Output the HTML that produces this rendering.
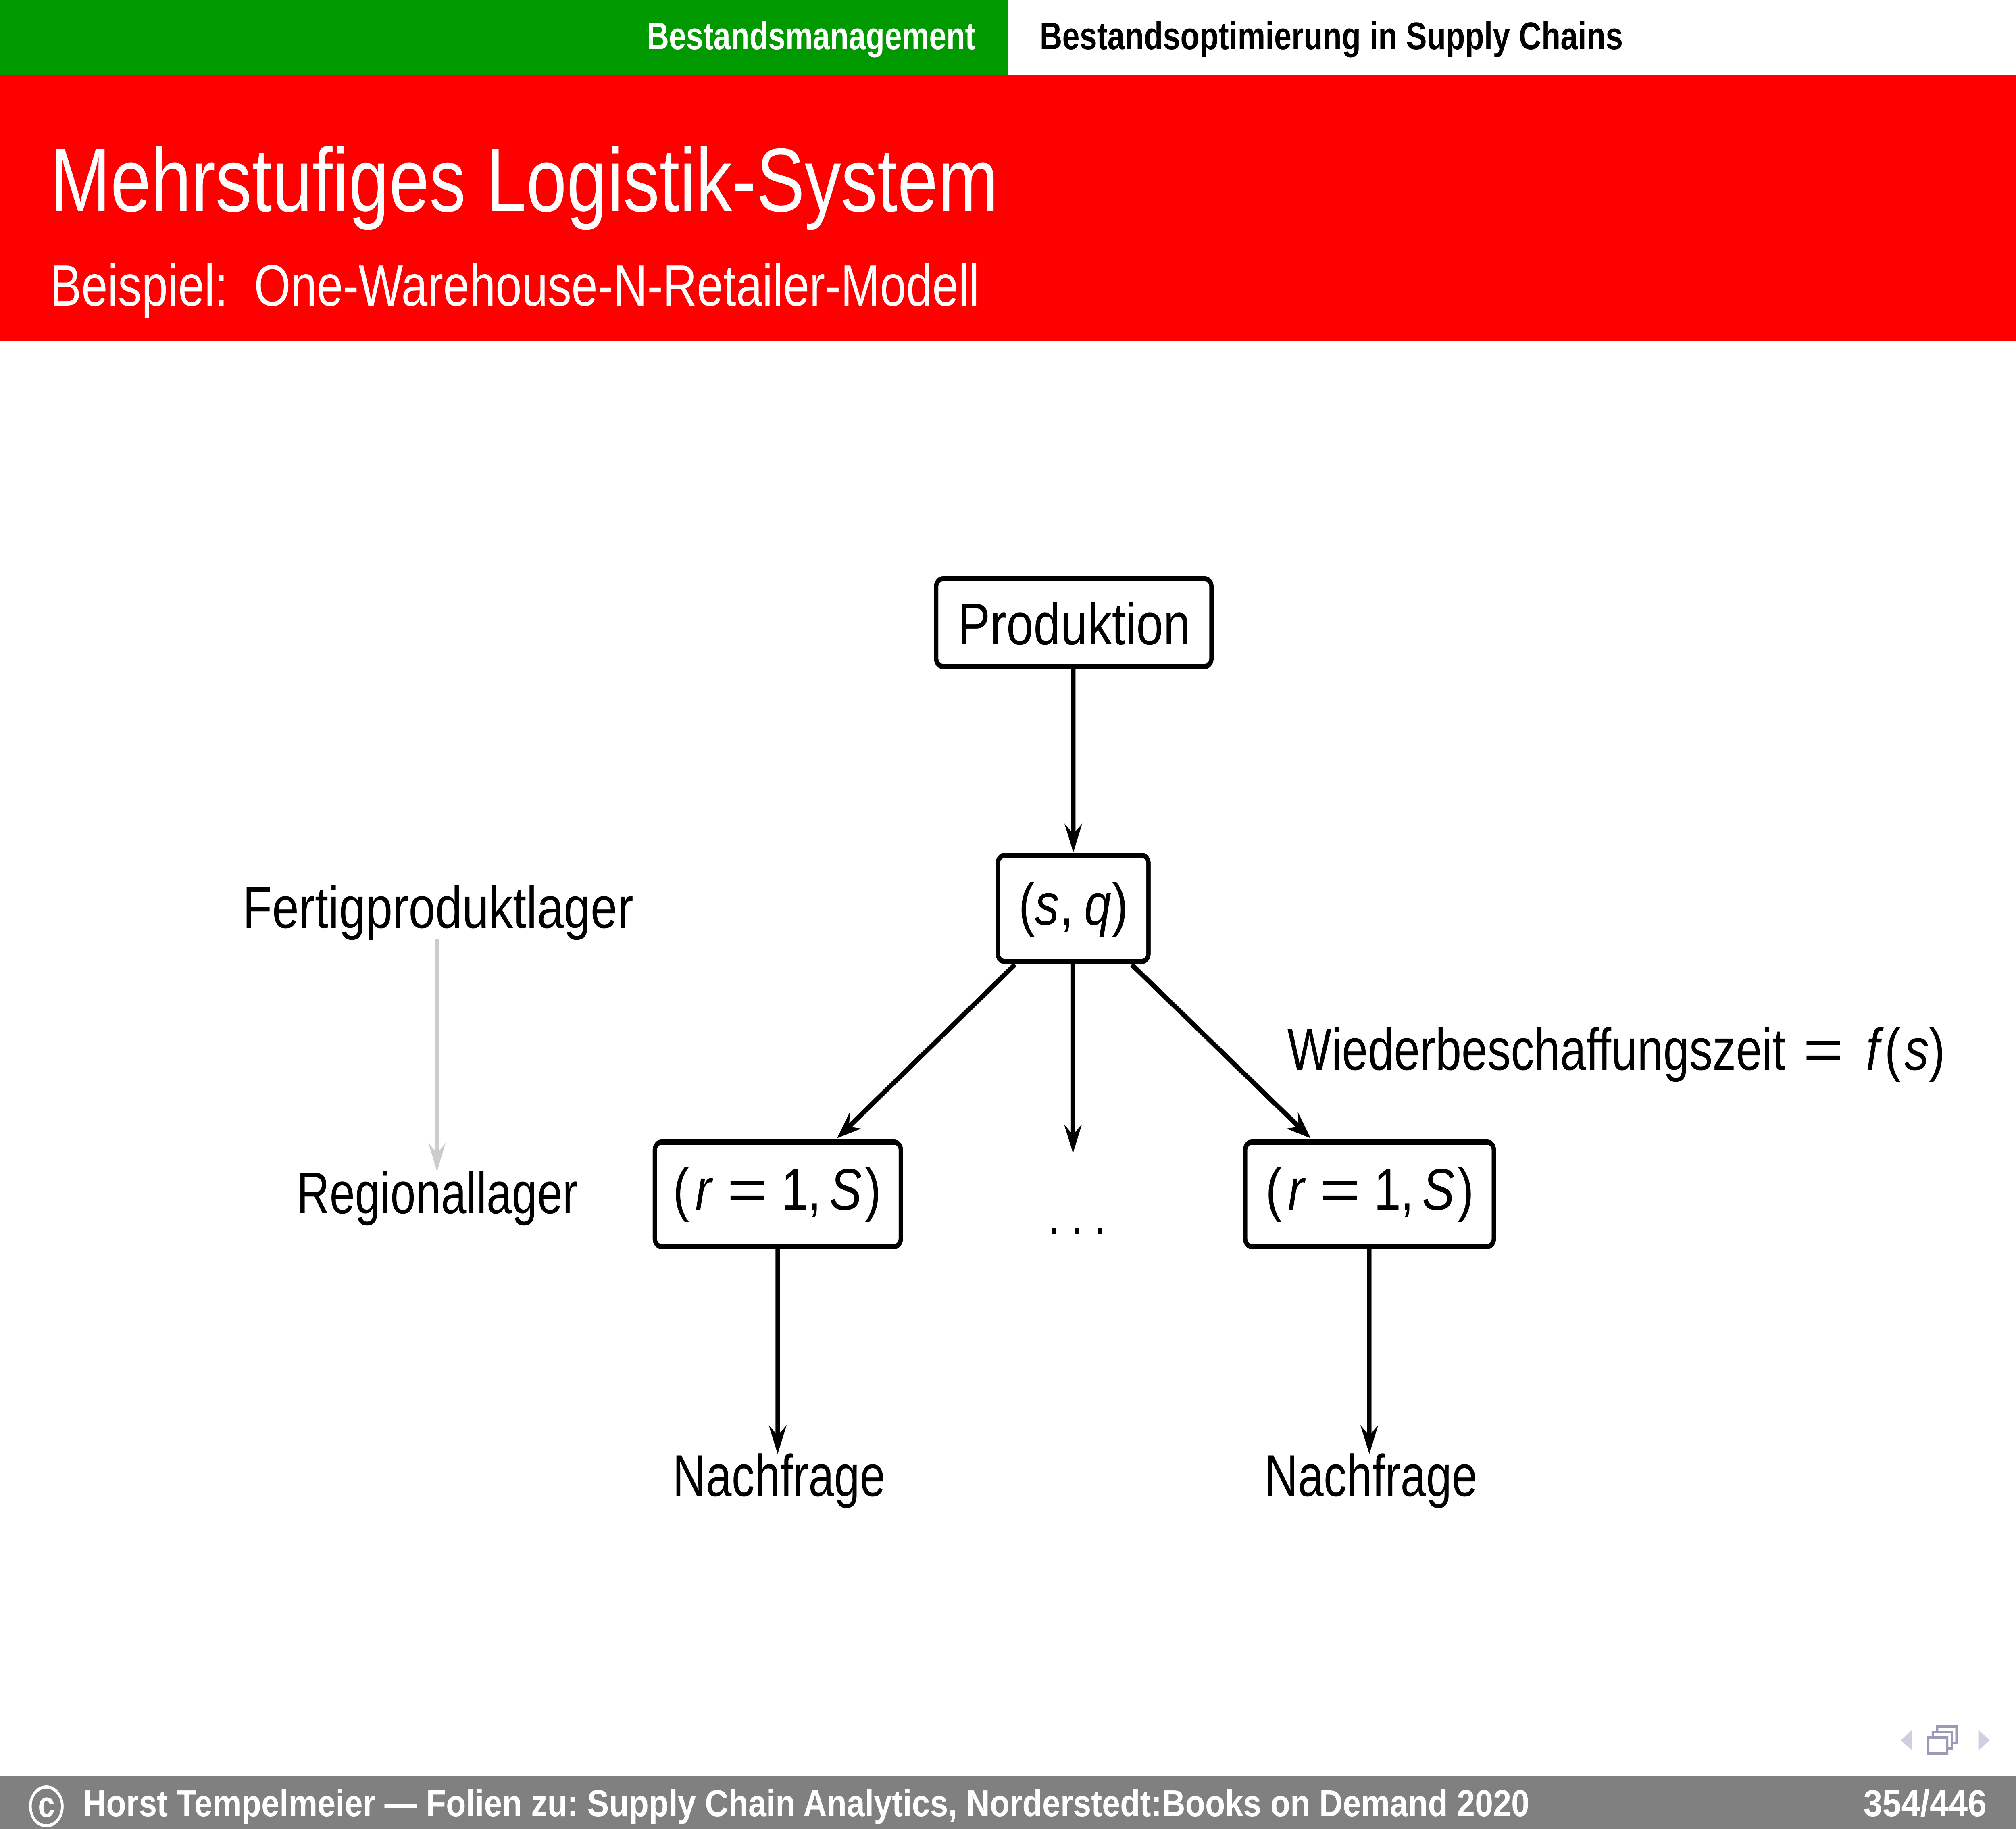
<!DOCTYPE html>
<html><head><meta charset="utf-8"><title>Mehrstufiges Logistik-System</title><style>
html,body{margin:0;padding:0;background:#fff;width:100%;height:100%;overflow:hidden;}
svg{display:block;position:fixed;left:0;top:0;width:100vw;height:100vh;}
text{font-family:"Liberation Sans",sans-serif;}
.it{font-style:italic;}
</style></head><body>
<svg viewBox="0 0 6048 4536" preserveAspectRatio="none" xmlns="http://www.w3.org/2000/svg">
<rect width="6048" height="4536" fill="#fff"/>
<!-- header -->
<rect x="0" y="0" width="3024" height="187" fill="#009900"/>
<rect x="0" y="187" width="6048" height="658" fill="#ff0000"/>
<text x="1940" y="122" font-size="96" font-weight="bold" fill="#fff" textLength="986" lengthAdjust="spacingAndGlyphs">Bestandsmanagement</text>
<text x="3119" y="122" font-size="96" font-weight="bold" fill="#000" textLength="1750" lengthAdjust="spacingAndGlyphs">Bestandsoptimierung in Supply Chains</text>
<text x="150" y="524" font-size="224" fill="#fff" textLength="2845" lengthAdjust="spacingAndGlyphs">Mehrstufiges Logistik-System</text>
<text x="150" y="758" font-size="145" fill="#fff" textLength="2788" lengthAdjust="spacingAndGlyphs" xml:space="preserve">Beispiel:  One-Warehouse-N-Retailer-Modell</text>

<!-- connectors -->
<g stroke="#000" stroke-width="13" fill="none">
<path d="M3220 1659 V2074"/>
<path d="M3045 2392 L2542 2798"/>
<path d="M3395 2392 L3901 2798"/>
<path d="M3219 2391 V2820"/>
<path d="M2333 3098 V3566"/>
<path d="M4108 3098 V3566"/>
</g>
<g fill="#000">
<polygon points="3220,2114 3193,2042 3220,2068 3247,2042"/>
<polygon points="2511,2823 2584,2799 2547,2794 2550,2757"/>
<polygon points="3932,2823 3859,2799 3896,2794 3893,2757"/>
<polygon points="3219,2860 3192,2788 3219,2814 3246,2788"/>
<polygon points="2333,3606 2306,3534 2333,3560 2360,3534"/>
<polygon points="4108,3606 4081,3534 4108,3560 4135,3534"/>
</g>
<path d="M1311 2329 V2866" stroke="#cccccc" stroke-width="12" fill="none"/>
<polygon points="1311,2906 1285,2834 1311,2860 1337,2834" fill="#cccccc"/>

<!-- boxes -->
<g fill="#fff" stroke="#000" stroke-width="13">
<rect x="2808.5" y="1435.5" width="826" height="217" rx="20"/>
<rect x="2993.5" y="2121.5" width="452" height="263" rx="20"/>
<rect x="1964.5" y="2832.5" width="738" height="259" rx="20"/>
<rect x="3735.5" y="2832.5" width="746" height="259" rx="20"/>
</g>

<!-- node texts -->
<text x="2873" y="1598" font-size="146" fill="#000" textLength="698" lengthAdjust="spacingAndGlyphs">Produktion</text>

<g font-size="146" fill="#000" text-anchor="middle">
<!-- (s, q) -->
<text x="3080" y="2293">(</text>
<text x="3141" y="2293" class="it">s</text>
<text x="3200" y="2293">,</text>
<text x="3293" y="2293" class="it">q</text>
<text x="3360" y="2293">)</text>
<!-- right (r = 1, S) -->
<text x="3821" y="3000">(</text>
<text x="3888" y="3000" class="it">r</text>
<text x="4020" y="3000" textLength="121" lengthAdjust="spacingAndGlyphs">=</text>
<text x="4162" y="3000">1</text>
<text x="4221" y="3000">,</text>
<text x="4315" y="3000" class="it">S</text>
<text x="4397" y="3000">)</text>
<!-- left (r = 1, S) -->
<text x="2043" y="3000">(</text>
<text x="2110" y="3000" class="it">r</text>
<text x="2242" y="3000" textLength="121" lengthAdjust="spacingAndGlyphs">=</text>
<text x="2384" y="3000">1</text>
<text x="2443" y="3000">,</text>
<text x="2537" y="3000" class="it">S</text>
<text x="2619" y="3000">)</text>
<!-- dots -->
<text x="3162" y="3061">.</text>
<text x="3231" y="3061">.</text>
<text x="3300" y="3061">.</text>
<!-- = f(s) -->
<text x="5470" y="2653" textLength="121" lengthAdjust="spacingAndGlyphs">=</text>
<text x="5618" y="2653" class="it">f</text>
<text x="5678" y="2653">(</text>
<text x="5750" y="2653" class="it">s</text>
<text x="5811" y="2653">)</text>
</g>

<g font-size="146" fill="#000">
<text x="3862" y="2653" textLength="1494" lengthAdjust="spacingAndGlyphs">Wiederbeschaffungszeit</text>
<text x="728" y="2301" textLength="1172" lengthAdjust="spacingAndGlyphs">Fertigproduktlager</text>
<text x="890" y="3009" textLength="843" lengthAdjust="spacingAndGlyphs">Regionallager</text>
<text x="2018" y="3710" textLength="638" lengthAdjust="spacingAndGlyphs">Nachfrage</text>
<text x="3794" y="3710" textLength="638" lengthAdjust="spacingAndGlyphs">Nachfrage</text>
</g>

<!-- nav icons -->
<polygon points="5736,4290 5736,4341 5702,4316" fill="#cfcfe0"/>
<polygon points="5935,4290 5935,4341 5969,4316" fill="#cfcfe0"/>
<g fill="#fff" stroke="#9b9bb8" stroke-width="7">
<rect x="5811.5" y="4281.5" width="58" height="41"/>
<rect x="5798.5" y="4295.5" width="57" height="40"/>
<rect x="5784.5" y="4308.5" width="57" height="41"/>
</g>

<!-- footer -->
<rect x="0" y="4405" width="6048" height="131" fill="#808080"/>
<circle cx="139" cy="4480" r="48" fill="none" stroke="#fff" stroke-width="8"/>
<text x="139" y="4506" font-size="90" font-weight="bold" fill="#fff" text-anchor="middle">c</text>
<text x="248" y="4504" font-size="93" font-weight="bold" fill="#fff" textLength="4340" lengthAdjust="spacingAndGlyphs">Horst Tempelmeier — Folien zu: Supply Chain Analytics, Norderstedt:Books on Demand 2020</text>
<text x="5590" y="4504" font-size="93" font-weight="bold" fill="#fff" textLength="370" lengthAdjust="spacingAndGlyphs">354/446</text>
</svg>
</body></html>
